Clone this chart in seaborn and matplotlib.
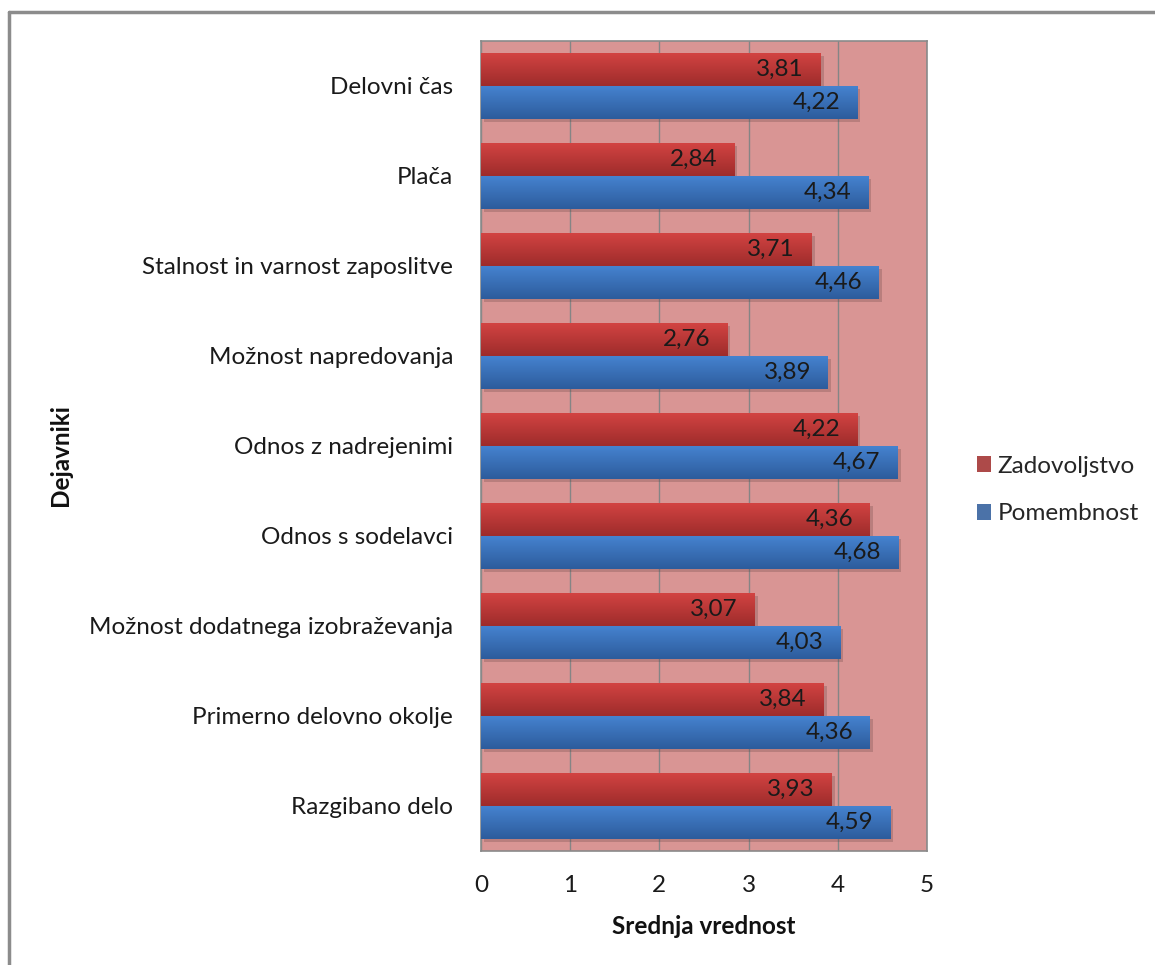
import numpy as np
import pandas as pd
import matplotlib
matplotlib.use("Agg")
import matplotlib.pyplot as plt
import matplotlib.transforms as mtransforms
from matplotlib.lines import Line2D
from matplotlib.patches import Rectangle
import matplotlib.colors as mcolors
import seaborn as sns

# Factors and their mean scores
dejavniki = [
    "Delovni čas",
    "Plača",
    "Stalnost in varnost zaposlitve",
    "Možnost napredovanja",
    "Odnos z nadrejenimi",
    "Odnos s sodelavci",
    "Možnost dodatnega izobraževanja",
    "Primerno delovno okolje",
    "Razgibano delo",
]
zadovoljstvo = [3.81, 2.84, 3.71, 2.76, 4.22, 4.36, 3.07, 3.84, 3.93]
pomembnost = [4.22, 4.34, 4.46, 3.89, 4.67, 4.68, 4.03, 4.36, 4.59]
serije = ["Zadovoljstvo", "Pomembnost"]
x_ticks = [0, 1, 2, 3, 4, 5]

df = pd.DataFrame({
    "Dejavnik": dejavniki * 2,
    "Vrednost": zadovoljstvo + pomembnost,
    "Serija": [serije[0]] * len(dejavniki) + [serije[1]] * len(dejavniki),
})

sns.set_theme(style="white")
plt.rcParams["font.family"] = ["Lato", "DejaVu Sans"]

FS = 17.5
base_colors = {"Zadovoljstvo": "#BE3A38", "Pomembnost": "#3B70B8"}
grad_colors = {
    "Zadovoljstvo": ("#D24342", "#9E2C2B"),
    "Pomembnost": ("#4582CF", "#2D5C9C"),
}

fig = plt.figure(figsize=(11.55, 9.65), dpi=100)
ax = fig.add_axes([481 / 1155, 1 - 851 / 965, (927 - 481) / 1155, (851 - 41) / 965])
ax.set_facecolor("#D99594")

sns.barplot(data=df, y="Dejavnik", x="Vrednost", hue="Serija", orient="h",
            palette=base_colors, width=0.73, ax=ax, legend=True, zorder=3,
            linewidth=0)

ax.set_xlim(0, 5)
ylim = ax.get_ylim()

# Gradient fill and soft drop shadow for each bar
shadow_tr = ax.transData + mtransforms.ScaledTranslation(3 / 100, -3 / 100, fig.dpi_scale_trans)
bars = [p for p in ax.patches if isinstance(p, Rectangle) and p.get_width() > 0]
n = len(dejavniki)
for i, p in enumerate(bars[: 2 * n]):
    serija = serije[0] if i < n else serije[1]
    x0, y0 = p.get_x(), p.get_y()
    w, h = p.get_width(), p.get_height()
    shadow = Rectangle((x0, y0), w, h, transform=shadow_tr, facecolor="#5a3a3a",
                       alpha=0.25, linewidth=0, zorder=2)
    ax.add_patch(shadow)
    c_top, c_bot = grad_colors[serija]
    cmap = mcolors.LinearSegmentedColormap.from_list("g", [c_top, c_bot])
    grad = np.linspace(0, 1, 64).reshape(-1, 1)
    im = ax.imshow(grad, cmap=cmap, aspect="auto", origin="upper",
                   extent=(x0, x0 + w, y0 + h, y0), zorder=3.5, interpolation="bilinear")
    im.set_clip_path(p)
    ax.text(x0 + w - 0.19, y0 + h / 2, f"{w:.2f}".replace(".", ","),
            ha="right", va="center", fontsize=FS, color="#1a1a1a", zorder=5)

ax.set_ylim(ylim)
ax.set_xlim(0, 5)

ax.set_xticks(x_ticks)
ax.set_xticklabels([str(t) for t in x_ticks])
ax.grid(axis="x", color="#858585", linewidth=1, zorder=1)
ax.grid(axis="y", visible=False)
ax.set_axisbelow(True)
for s in ax.spines.values():
    s.set_visible(True)
    s.set_color("#8a8a8a")
    s.set_linewidth(1.2)
ax.tick_params(axis="x", length=0, pad=17, labelsize=FS, colors="#1a1a1a")
ax.tick_params(axis="y", length=0, pad=20, labelsize=FS, colors="#1a1a1a")

ax.set_xlabel("Srednja vrednost", fontsize=FS, fontweight="bold", labelpad=14, color="#111111")
ax.set_ylabel("")
fig.text(60 / 1155, 1 - 455 / 965, "Dejavniki", rotation=90, ha="center", va="center",
         fontsize=FS, fontweight="bold", color="#111111")

handles, labels = ax.get_legend_handles_labels()
ax.legend(handles, labels, loc="center left", bbox_to_anchor=(955 / 1155, 1 - 490 / 965),
          bbox_transform=fig.transFigure, frameon=False, fontsize=FS,
          handlelength=0.6, handleheight=0.6, handletextpad=0.25, labelspacing=1.1)

# Outer chart border
fig.add_artist(Line2D([9 / 1155, 1.05], [1 - 12 / 965] * 2, color="#8c8c8c", lw=2.5))
fig.add_artist(Line2D([9 / 1155] * 2, [1 - 12 / 965, -0.05], color="#8c8c8c", lw=2.5))

fig.savefig("out.png", dpi=100)
